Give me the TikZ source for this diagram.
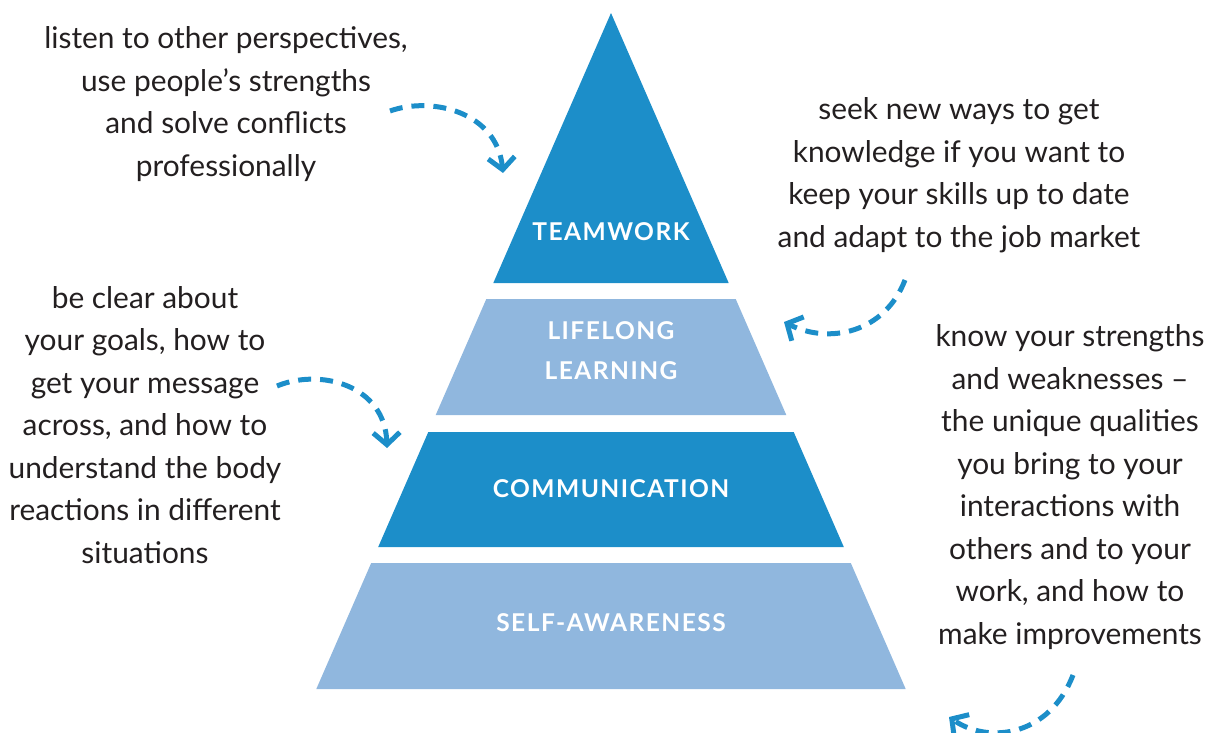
\documentclass[tikz,border=0pt]{standalone}
\usepackage{fontspec}
\setmainfont{Lato}
\newfontfamily\lblfont[LetterSpace=6.0]{Lato}
\usetikzlibrary{arrows.meta}
\definecolor{dblue}{HTML}{1C8EC9}
\definecolor{lblue}{HTML}{90B7DE}
\definecolor{txtc}{HTML}{231F20}
\begin{document}
\begin{tikzpicture}[x=0.75pt,y=-0.75pt,
  body/.style={font=\fontsize{22.4}{31.9}\selectfont, text=txtc, align=center, inner sep=0pt},
  layerlbl/.style={font=\lblfont\bfseries\fontsize{18.4}{30}\selectfont, text=white, align=center, inner sep=0pt},
  dasharrow/.style={draw=dblue, line width=3.75pt, dash pattern=on 9.75pt off 6.75pt,
    -{Straight Barb[length=9pt,width=20pt]}}]
\useasboundingbox (0,0) rectangle (1206,732);
% pyramid layers
\fill[dblue] (611,13) -- (728.7,283) -- (493.3,283) -- cycle;
\fill[lblue] (486.3,299) -- (735.7,299) -- (786.3,415) -- (435.7,415) -- cycle;
\fill[dblue] (428.3,432) -- (793.7,432) -- (843.8,547) -- (378.2,547) -- cycle;
\fill[lblue] (371.2,563) -- (850.8,563) -- (905.7,689) -- (316.3,689) -- cycle;
% layer labels
\node[layerlbl] (teamwork) at (611,232) {TEAMWORK};
\node[layerlbl] (lifelong) at (611,351) {LIFELONG\\LEARNING};
\node[layerlbl] (comm) at (611,489) {COMMUNICATION};
\node[layerlbl] (selfaw) at (611,623) {SELF-AWARENESS};
% texts
\node[body] (t1) at (226,104) {listen to other perspectives,\\use people’s strengths\\and solve conflicts\\professionally};
\node[body] (t2) at (959,175) {seek new ways to get\\knowledge if you want to\\keep your skills up to date\\and adapt to the job market};
\node[body] (t3) at (145,425) {be clear about\\your goals, how to\\get your message\\across, and how to\\understand the body\\reactions in different\\situations};
\node[body] (t4) at (1070,487) {know your strengths\\and weaknesses –\\the unique qualities\\you bring to your\\interactions with\\others and to your\\work, and how to\\make improvements};
% arrows
\coordinate (a1s) at (390,111); \coordinate (a1e) at (503,173);
\coordinate (a2s) at (905,280); \coordinate (a2e) at (784,322);
\coordinate (a3s) at (277,386); \coordinate (a3e) at (387,448);
\coordinate (a4s) at (1073,675); \coordinate (a4e) at (949,717);
\draw[dasharrow] (a1s) .. controls (432,96) and (497,112) .. (a1e);
\draw[dasharrow] (a2s) .. controls (885,332) and (830,345) .. (a2e);
\draw[dasharrow] (a3s) .. controls (320,368) and (385,385) .. (a3e);
\draw[dasharrow] (a4s) .. controls (1050,735) and (990,745) .. (a4e);
\end{tikzpicture}
\end{document}
